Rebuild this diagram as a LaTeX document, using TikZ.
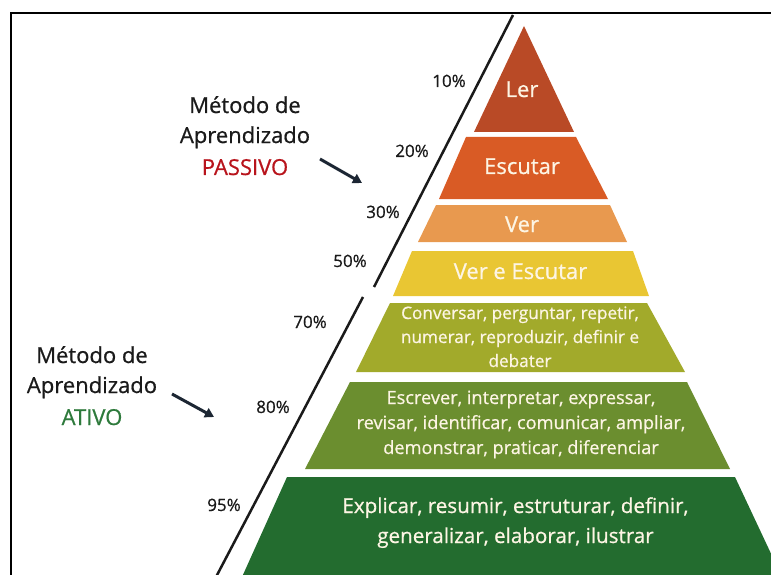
\documentclass[tikz,border=0pt]{standalone}
\usepackage{fontspec}
\setmainfont{Open Sans}[FakeBold=0.7]
\usetikzlibrary{arrows.meta}
\definecolor{cLer}{HTML}{B94A26}
\definecolor{cEsc}{HTML}{D95B25}
\definecolor{cVer}{HTML}{E8994F}
\definecolor{cVeE}{HTML}{E9C633}
\definecolor{cCon}{HTML}{A2AA2B}
\definecolor{cEsr}{HTML}{6B8E2F}
\definecolor{cExp}{HTML}{236C2F}
\definecolor{cTxt}{HTML}{FDF5E4}
\definecolor{cRed}{HTML}{B8141C}
\definecolor{cGrn}{HTML}{2E7A3C}
\definecolor{cArr}{HTML}{1C2633}
\definecolor{cDark}{HTML}{1A1A1A}
\tikzset{
  lvl/.style={draw=none},
  lvltxt/.style={inner sep=0pt, anchor=base, text=cTxt},
  pct/.style={inner sep=0pt, anchor=base, text=cDark, font=\fontsize{17}{20}\selectfont},
  side/.style={inner sep=0pt, anchor=base, text=cDark, font=\fontsize{22}{26}\selectfont},
  pointer/.style={draw=cArr, line width=3pt, -{Triangle[length=9pt,width=10pt]}},
  slash/.style={draw=cDark, line width=2.5pt},
  frame/.style={draw=black, line width=2pt}
}
\begin{document}
\begin{tikzpicture}[x=1pt,y=-1pt]
\useasboundingbox (0,0) rectangle (771,575);
\begin{scope}
\clip (0,0) rectangle (771,575);
% frame
\draw[frame] (10.5,576) -- (10.5,13.5) -- (772,13.5);
% pyramid levels
\fill[cLer] (524,26) -- (574,132) -- (474,132) -- cycle;
\fill[cEsc] (466,137) -- (576,137) -- (608,199) -- (439,199) -- cycle;
\fill[cVer] (436,205) -- (610,205) -- (627,242) -- (418,242) -- cycle;
\fill[cVeE] (412,251) -- (633,251) -- (649,296) -- (393,296) -- cycle;
\fill[cCon] (390,303) -- (647,303) -- (685,372) -- (356,372) -- cycle;
\fill[cEsr] (350,382) -- (687,382) -- (730,469) -- (305,469) -- cycle;
\fill[cExp] (287,477) -- (735,477) -- (782,577) -- (242,577) -- cycle;
% diagonal line
\coordinate (s1a) at (513,15);
\coordinate (s1b) at (374,287);
\coordinate (s2a) at (363,297);
\coordinate (s2b) at (216,577);
\draw[slash] (s1a) -- (s1b);
\draw[slash] (s2a) -- (s2b);
\end{scope}
% level texts
\node[lvltxt, font=\fontsize{22}{26}\selectfont] (tLer) at (522,97) {Ler};
\node[lvltxt, font=\fontsize{22}{26}\selectfont] (tEsc) at (522,174) {Escutar};
\node[lvltxt, font=\fontsize{22}{26}\selectfont] (tVer) at (522,232) {Ver};
\node[lvltxt, font=\fontsize{22}{26}\selectfont] (tVeE) at (520.5,279) {Ver e Escutar};
\node[lvltxt, font=\fontsize{17.2}{20}\selectfont] (tCon1) at (520,319) {Conversar, perguntar, repetir,};
\node[lvltxt, font=\fontsize{17.2}{20}\selectfont] (tCon2) at (520,343) {numerar, reproduzir, definir e};
\node[lvltxt, font=\fontsize{17.2}{20}\selectfont] (tCon3) at (520,367) {debater};
\node[lvltxt, font=\fontsize{18.2}{21}\selectfont] (tEsr1) at (521,404) {Escrever, interpretar, expressar,};
\node[lvltxt, font=\fontsize{18.2}{21}\selectfont] (tEsr2) at (521,429) {revisar, identificar, comunicar, ampliar,};
\node[lvltxt, font=\fontsize{18.2}{21}\selectfont] (tEsr3) at (521,454) {demonstrar, praticar, diferenciar};
\node[lvltxt, font=\fontsize{20.6}{24}\selectfont] (tExp1) at (515.5,513) {Explicar, resumir, estruturar, definir,};
\node[lvltxt, font=\fontsize{20.6}{24}\selectfont] (tExp2) at (515.5,543) {generalizar, elaborar, ilustrar};
% percentages
\node[pct] (p10) at (449,87) {10\%};
\node[pct] (p20) at (412,157) {20\%};
\node[pct] (p30) at (383,218) {30\%};
\node[pct] (p50) at (350,267) {50\%};
\node[pct] (p70) at (310,328) {70\%};
\node[pct] (p80) at (273,413) {80\%};
\node[pct] (p95) at (224,511) {95\%};
% side labels
\node[side] (pa1) at (245,113) {Método de};
\node[side] (pa2) at (245,143) {Aprendizado};
\node[side, text=cRed] (pa3) at (245,175) {PASSIVO};
\node[side] (at1) at (92,363) {Método de};
\node[side] (at2) at (92,393) {Aprendizado};
\node[side, text=cGrn] (at3) at (92,425) {ATIVO};
% arrows
\coordinate (ap1) at (320,159);
\coordinate (ap2) at (362,183);
\coordinate (aa1) at (172,394);
\coordinate (aa2) at (214,417);
\draw[pointer] (ap1) -- (ap2);
\draw[pointer] (aa1) -- (aa2);
\end{tikzpicture}
\end{document}
